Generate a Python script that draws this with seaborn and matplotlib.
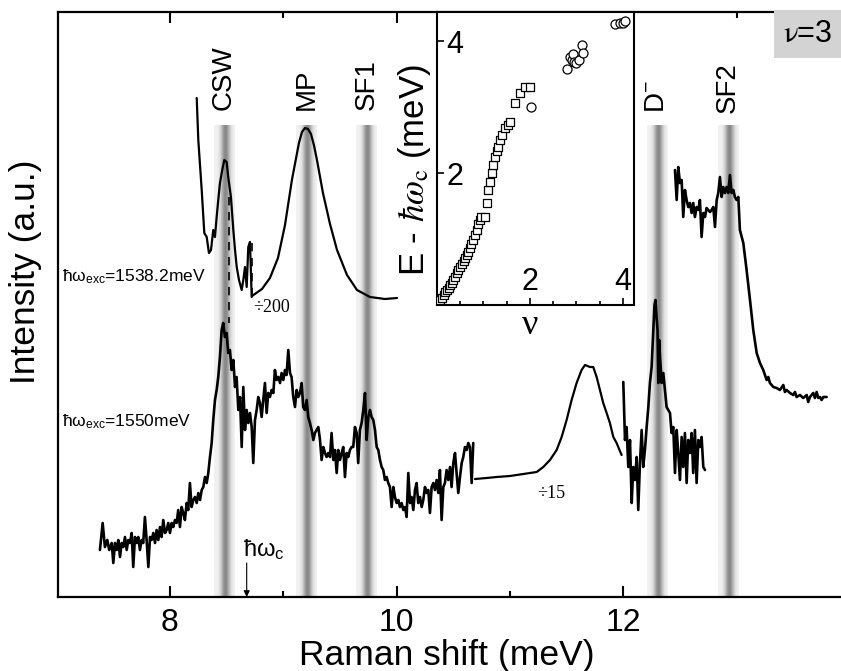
import numpy as np
import pandas as pd
import matplotlib
matplotlib.use("Agg")
import matplotlib.pyplot as plt
import seaborn as sns
from matplotlib.ticker import FixedLocator, MultipleLocator

# ---------------- data (Raman shift meV, intensity a.u.) ----------------
# upper spectrum, hw_exc = 1538.2 meV : CSW part
upper_csw = [(8.236,4.99),(8.250,4.57),(8.280,4.07),(8.303,3.64),(8.324,3.60),(8.344,3.44),
             (8.362,3.47),(8.382,3.67),(8.397,3.60),(8.412,3.80),(8.426,3.97),(8.441,4.14),
             (8.461,4.27),(8.479,4.37),(8.500,4.35),(8.514,4.20),(8.538,4.00),(8.559,3.67),
             (8.574,3.47),(8.589,3.30),(8.609,3.17),(8.633,3.07),(8.647,3.17),(8.662,3.30),
             (8.677,3.10),(8.691,3.50),(8.706,3.55),(8.721,3.00)]
# upper spectrum, MP part (divided by 200)
upper_mp = [(8.724,3.01),(8.812,3.08),(8.882,3.19),(8.953,3.39),(9.015,3.72),(9.076,4.17),
            (9.138,4.54),(9.165,4.65),(9.191,4.69),(9.218,4.68),(9.244,4.63),(9.270,4.52),
            (9.297,4.37),(9.350,4.04),(9.412,3.73),(9.474,3.47),(9.562,3.22),(9.650,3.07),
            (9.765,3.00),(9.897,2.98),(10.003,2.99)]
# upper spectrum, SF2 part
upper_sf2 = [(12.456,4.27),(12.471,3.97),(12.485,4.30),(12.500,4.14),(12.515,4.17),(12.529,3.80),
             (12.544,4.07),(12.559,3.97),(12.573,3.90),(12.588,3.94),(12.603,3.84),(12.617,3.94),
             (12.632,3.80),(12.647,3.90),(12.662,3.87),(12.676,3.97),(12.691,3.60),(12.706,3.84),
             (12.721,3.80),(12.735,3.89),(12.750,3.87),(12.765,3.85),(12.779,3.87),(12.794,3.90),
             (12.809,3.70),(12.824,3.97),(12.838,4.04),(12.853,4.20),(12.868,4.00),(12.882,4.10),
             (12.897,4.04),(12.912,4.10),(12.926,4.04),(12.941,4.22),(12.956,4.04),(12.971,4.07),
             (12.985,4.00),(13.000,3.97),(13.015,4.00),(13.029,3.67),(13.059,3.54),(13.088,3.27),
             (13.118,2.97),(13.147,2.67),(13.177,2.44),(13.206,2.34),(13.235,2.27),(13.265,2.17),
             (13.279,2.20),(13.294,2.14),(13.324,2.10),(13.353,2.09),(13.382,2.07),(13.412,2.12),
             (13.426,2.05),(13.441,2.07),(13.471,2.04),(13.500,2.02),(13.515,2.05),(13.529,2.00),
             (13.559,2.02),(13.588,1.99),(13.618,2.02),(13.632,1.95),(13.647,2.00),(13.676,2.04),
             (13.691,1.99),(13.706,2.05),(13.721,1.99),(13.735,2.00),(13.750,1.97),(13.765,2.00),
             (13.794,2.00)]
# lower spectrum, hw_exc = 1550 meV
lower_main = [(7.382,0.47),(7.406,0.74),(7.426,0.50),(7.447,0.57),(7.464,0.47),(7.486,0.54),
              (7.500,0.34),(7.515,0.54),(7.530,0.47),(7.544,0.57),(7.559,0.40),(7.574,0.54),
              (7.588,0.50),(7.603,0.60),(7.618,0.47),(7.632,0.57),(7.647,0.54),(7.662,0.64),
              (7.676,0.30),(7.691,0.60),(7.706,0.54),(7.720,0.60),(7.735,0.47),(7.750,0.57),
              (7.764,0.54),(7.779,0.80),(7.794,0.57),(7.809,0.30),(7.824,0.60),(7.838,0.57),
              (7.853,0.64),(7.868,0.54),(7.882,0.67),(7.897,0.57),(7.912,0.70),(7.926,0.60),
              (7.941,0.77),(7.956,0.64),(7.971,0.67),(7.985,0.74),(8.000,0.64),(8.015,0.74),
              (8.029,0.70),(8.044,0.77),(8.059,0.74),(8.073,0.87),(8.088,0.70),(8.103,0.90),
              (8.117,0.84),(8.132,0.77),(8.147,0.94),(8.161,0.87),(8.176,1.14),(8.191,0.90),
              (8.206,0.97),(8.221,1.00),(8.236,0.94),(8.250,1.04),(8.265,0.97),(8.280,1.07),
              (8.294,1.10),(8.309,1.20),(8.324,1.14),(8.338,1.24),(8.353,1.40),(8.368,1.54),
              (8.382,1.77),(8.397,1.97),(8.412,2.07),(8.426,2.20),(8.441,2.40),(8.456,2.67),
              (8.470,2.74),(8.485,2.60),(8.500,2.64),(8.514,2.44),(8.529,2.47),(8.544,2.27),
              (8.559,2.37),(8.574,2.10),(8.588,2.20),(8.603,1.87),(8.618,2.00),(8.633,1.50),
              (8.647,2.10),(8.662,1.67),(8.677,1.87),(8.691,1.74),(8.706,1.84),(8.721,1.70),
              (8.735,1.34),(8.750,1.77),(8.765,1.87),(8.779,2.00),(8.794,1.94),(8.809,1.80),
              (8.823,1.97),(8.838,2.14),(8.853,1.84),(8.867,2.04),(8.882,2.00),(8.897,2.07),
              (8.912,2.04),(8.926,2.27),(8.941,2.17),(8.956,2.20),(8.971,2.14),(8.985,2.24),
              (9.000,2.17),(9.015,2.27),(9.029,2.22),(9.044,2.47),(9.059,2.24),(9.073,2.20),
              (9.088,2.00),(9.103,1.90),(9.118,2.07),(9.132,2.00),(9.147,2.04),(9.162,2.14),
              (9.176,1.90),(9.191,1.87),(9.206,1.97),(9.220,1.80),(9.235,1.74),(9.250,1.67),
              (9.265,1.57),(9.279,1.64),(9.294,1.67),(9.309,1.70),(9.324,1.57),(9.338,1.37),
              (9.353,1.50),(9.368,1.44),(9.382,1.40),(9.397,1.44),(9.412,1.40),(9.426,1.64),
              (9.441,1.37),(9.456,1.47),(9.471,1.24),(9.485,1.47),(9.500,1.37),(9.515,1.44),
              (9.529,1.50),(9.544,1.20),(9.559,1.44),(9.573,1.40),(9.588,1.47),(9.603,1.50),
              (9.617,1.50),(9.632,1.70),(9.647,1.64),(9.661,1.34),(9.676,1.67),(9.691,1.74),
              (9.706,1.87),(9.721,2.04),(9.735,1.57),(9.750,1.80),(9.765,1.87),(9.779,1.80),
              (9.794,1.77),(9.809,1.67),(9.824,1.50),(9.838,1.47),(9.853,1.37),(9.868,1.30),
              (9.882,1.27),(9.897,1.17),(9.912,1.20),(9.926,1.14),(9.941,1.10),(9.956,0.90),
              (9.971,1.10),(9.985,1.00),(10.000,0.94),(10.015,0.97),(10.029,0.90),(10.044,0.94),
              (10.059,0.87),(10.074,0.90),(10.088,0.80),(10.103,1.24),(10.118,0.94),(10.132,1.00),
              (10.147,0.87),(10.162,1.07),(10.176,1.14),(10.191,0.94),(10.206,1.00),(10.221,0.90),
              (10.235,0.97),(10.250,1.10),(10.265,1.04),(10.279,1.07),(10.294,0.84),(10.309,1.10),
              (10.324,1.14),(10.338,1.07),(10.353,1.17),(10.368,1.04),(10.382,1.27),(10.397,0.77),
              (10.412,1.10),(10.426,1.14),(10.441,1.27),(10.456,1.17),(10.471,1.30),(10.485,1.10),
              (10.500,1.34),(10.515,1.44),(10.529,1.24),(10.544,1.04),(10.559,1.20),(10.574,1.34),
              (10.588,1.40),(10.603,1.50),(10.618,1.47),(10.632,1.54),(10.647,1.50),(10.662,1.14),
              (10.676,1.54)]
# lower spectrum, divided by 15
lower_div15 = [(10.691,1.18),(10.794,1.19),(10.882,1.20),(11.000,1.21),(11.118,1.23),(11.236,1.25),
               (11.294,1.30),(11.353,1.37),(11.412,1.47),(11.456,1.60),(11.500,1.77),(11.544,1.97),
               (11.588,2.14),(11.632,2.27),(11.662,2.32),(11.706,2.30),(11.735,2.30),(11.765,2.20),
               (11.794,2.07),(11.823,1.94),(11.853,1.84),(11.882,1.74),(11.912,1.60),(11.941,1.54),
               (11.985,1.42)]
# lower spectrum, D- part
lower_dminus = [(12.000,2.15),(12.015,1.57),(12.029,1.70),(12.044,1.30),(12.059,1.57),(12.074,0.94),
                (12.088,1.30),(12.103,1.17),(12.118,1.40),(12.132,0.87),(12.147,1.34),(12.162,1.67),
                (12.176,1.30),(12.191,1.47),(12.206,1.70),(12.221,1.90),(12.235,2.14),(12.250,2.30),
                (12.265,2.67),(12.275,2.92),(12.284,2.97),(12.294,2.79),(12.302,2.67),(12.309,2.14),
                (12.316,2.57),(12.324,2.40),(12.338,2.14),(12.353,2.24),(12.382,1.90),(12.412,1.84),
                (12.426,1.64),(12.441,1.70),(12.456,1.24),(12.471,1.67),(12.485,1.44),(12.500,1.17),
                (12.515,1.60),(12.529,1.30),(12.544,1.64),(12.559,1.14),(12.573,1.57),(12.588,1.44),
                (12.603,1.64),(12.617,1.24),(12.632,1.67),(12.647,1.14),(12.662,1.57),(12.676,1.50),
                (12.691,1.60),(12.706,1.30),(12.721,1.27)]

# dashed guide lines (shift, [I_top, I_bottom])
dash_csw = ([8.521, 8.521], [4.00, 2.74])
dash_cut = ([8.724, 8.724], [3.54, 3.00])

# excitation features (band centres) and labels
band_centers = [8.477, 9.205, 9.735, 12.300, 12.925]
band_labels = ["CSW", "MP", "SF1", "D$^{-}$", "SF2"]
hw_c = 8.677

# inset: E - hw_c vs filling factor nu
sq_nu = [0.06,0.10,0.14,0.18,0.21,0.25,0.28,0.32,0.35,0.39,0.42,0.46,0.50,0.53,0.57,0.60,
         0.64,0.67,0.71,0.74,0.78,0.81,0.85,0.88,0.92,0.95,1.03,1.07,1.10,1.14,1.18,1.21,
         1.25,1.28,1.31,1.35,1.39,1.46,1.52,1.57,1.68,1.78,1.89,2.00]
sq_E = [0.08,0.10,0.15,0.19,0.23,0.26,0.30,0.34,0.38,0.42,0.48,0.53,0.58,0.62,0.66,0.71,
        0.76,0.81,0.86,0.92,0.98,1.06,1.14,1.22,1.29,1.34,1.34,1.54,1.74,1.87,2.00,2.12,
        2.25,2.33,2.40,2.50,2.58,2.68,2.73,2.78,3.06,3.21,3.30,3.30]
ci_nu = [2.02,2.79,2.86,2.90,2.92,2.95,3.00,3.05,3.11,3.15,3.83,3.94,4.00,4.04]
ci_E = [3.00,3.58,3.76,3.71,3.80,3.68,3.66,3.72,3.94,3.82,4.26,4.28,4.28,4.30]

# ---------------- style ----------------
sns.set_theme(style="ticks")
plt.rcParams["font.family"] = ["Liberation Sans", "DejaVu Sans"]
plt.rcParams["mathtext.fontset"] = "custom"
plt.rcParams["mathtext.rm"] = "Liberation Sans"
plt.rcParams["mathtext.it"] = "Liberation Sans:italic"
plt.rcParams["mathtext.bf"] = "Liberation Sans:bold"
for k in ["axes.edgecolor", "text.color", "axes.labelcolor", "xtick.color", "ytick.color"]:
    plt.rcParams[k] = "black"

fig = plt.figure(figsize=(8.41, 6.71), dpi=100)
ax = fig.add_axes([58/841, 74/671, 783/841, 585/671])

# gradient bands
t = np.linspace(0, 1, 60)
shade = 0.95 - 0.42 * np.exp(-((t - 0.55) / 0.22) ** 2)
img = np.tile(shade, (2, 1))
bw = 0.18
band_top = 4.72
for c in band_centers:
    ax.imshow(img, extent=[c - bw/2, c + bw/2, 0, band_top], aspect="auto", cmap="gray",
              vmin=0, vmax=1, zorder=1, interpolation="bilinear")

for seg in [upper_csw, upper_mp, upper_sf2, lower_main, lower_div15, lower_dminus]:
    df = pd.DataFrame(seg, columns=["shift", "I"])
    lw = 1.9 if seg in (lower_main, lower_dminus, upper_sf2) else 1.6
    sns.lineplot(data=df, x="shift", y="I", ax=ax, color="black", lw=lw, sort=False,
                 estimator=None, zorder=3)
for dx, dy in [dash_csw, dash_cut]:
    sns.lineplot(x=dx, y=dy, ax=ax, color="black", lw=1.2, linestyle=(0, (5, 4)),
                 sort=False, estimator=None, zorder=3)

ax.set_xlim(7.012, 13.921)
ax.set_ylim(0, 5.85)
ax.xaxis.set_major_locator(FixedLocator([8, 10, 12]))
ax.xaxis.set_minor_locator(MultipleLocator(1))
ax.set_yticks([])
ax.tick_params(axis="x", which="both", direction="in", top=True, labelsize=23, width=1.5, pad=8)
ax.tick_params(axis="x", which="major", length=8)
ax.tick_params(axis="x", which="minor", length=4)
for s in ["left", "bottom", "top"]:
    ax.spines[s].set_linewidth(1.6)
ax.spines["right"].set_visible(False)

ax.set_xlabel("Raman shift (meV)", fontsize=25.5)
ax.xaxis.set_label_coords(0.497, -0.072)
ax.set_ylabel("Intensity (a.u.)", fontsize=25.5)
ax.yaxis.set_label_coords(-0.020, 0.556)

for c, lab in zip(band_centers, band_labels):
    yb = 4.87 if c < 11 else 4.84
    ax.text(c, yb, lab, rotation=90, ha="center", va="bottom", fontsize=20)

ax.text(7.047, 3.20, r"ħω$_{\mathrm{exc}}$=1538.2meV", fontsize=12.5, va="center", ha="left")
ax.text(7.047, 1.75, r"ħω$_{\mathrm{exc}}$=1550meV", fontsize=12.5, va="center", ha="left")
ax.text(8.732, 2.89, "÷200", family=["Liberation Serif"], fontsize=13, va="center", ha="left")
ax.text(11.238, 1.04, "÷15", family=["Liberation Serif"], fontsize=13, va="center", ha="left")
ax.text(8.644, 0.47, r"ħω$_{\mathrm{c}}$", fontsize=17, va="center", ha="left")
ax.annotate("", xy=(hw_c, 0.0), xytext=(hw_c, 0.34),
            arrowprops=dict(arrowstyle="-|>", color="black", lw=0.8, mutation_scale=9,
                            shrinkA=0, shrinkB=0))
ax.text(0.958, 0.962, r"$\mathrm{\nu}$=3", transform=ax.transAxes, fontsize=22, ha="center",
        va="center", math_fontfamily="stix",
        bbox=dict(boxstyle="square,pad=0.3", fc="#d3d3d3", ec="none"))

# ---------------- inset ----------------
axi = fig.add_axes([437/841, 366/671, 197/841, 293/671])
axi.set_facecolor("white")
sns.scatterplot(x=sq_nu, y=sq_E, marker="s", s=32, color="white", edgecolor="black",
                linewidth=0.9, ax=axi, zorder=3)
sns.scatterplot(x=ci_nu, y=ci_E, marker="o", s=42, color="white", edgecolor="black",
                linewidth=0.9, ax=axi, zorder=3)
axi.set_xlim(0, 4.237)
axi.set_ylim(0, 4.44)
axi.set_xticks([2, 4])
axi.xaxis.set_minor_locator(MultipleLocator(0.5))
axi.set_yticks([2, 4])
axi.tick_params(axis="x", which="both", direction="in", labelsize=22, pad=-27, width=1.2)
axi.tick_params(axis="x", which="major", length=5)
axi.tick_params(axis="x", which="minor", length=3)
axi.tick_params(axis="y", which="both", direction="in", labelsize=22, pad=-19, width=1.2, length=5)
for s in axi.spines.values():
    s.set_linewidth(1.5)
axi.set_xlabel("ν", fontsize=26, family=["Liberation Serif"])
axi.xaxis.set_label_coords(0.472, -0.015)
axi.set_ylabel(r"E - $\hbar\omega_\mathrm{c}$ (meV)", fontsize=25, math_fontfamily="stix")
axi.yaxis.set_label_coords(-0.02, 0.46)

fig.savefig("out.png", dpi=100)
